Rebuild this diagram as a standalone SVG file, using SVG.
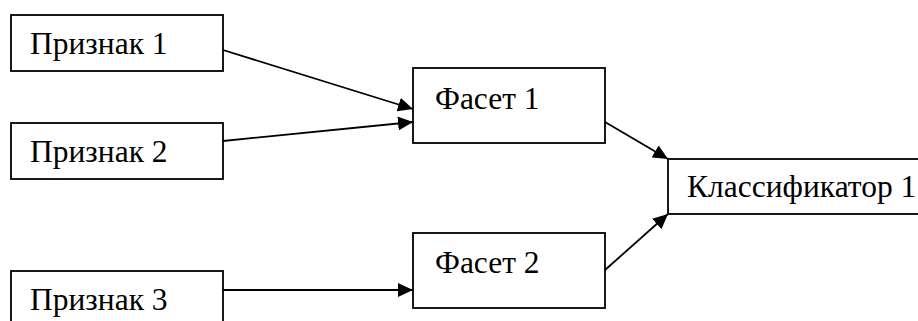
<svg xmlns="http://www.w3.org/2000/svg" width="918" height="321" viewBox="0 0 918 321">
<style>
.box{fill:#fff;stroke:#000;stroke-width:1.8}
.lbl{font-family:"Liberation Serif","Times New Roman",serif;font-size:31.5px;fill:#000}
.edge{stroke:#000;stroke-width:1.8;fill:none}
</style>
<defs>
<marker id="ah" markerUnits="userSpaceOnUse" markerWidth="16" markerHeight="14" refX="15" refY="7" orient="auto">
<path d="M0,0 L15,7 L0,14 Z" fill="#000"/>
</marker>
</defs>
<rect width="918" height="321" fill="#fff"/>
<g id="p1"><rect class="box" x="11" y="15" width="212" height="56"/><text class="lbl" x="30" y="54">Признак 1</text></g>
<g id="p2"><rect class="box" x="11" y="123" width="212" height="56"/><text class="lbl" x="30" y="162">Признак 2</text></g>
<g id="p3"><rect class="box" x="11" y="271" width="212" height="60"/><text class="lbl" x="30" y="310">Признак 3</text></g>
<g id="f1"><rect class="box" x="413" y="68" width="192" height="75"/><text class="lbl" x="435" y="109">Фасет 1</text></g>
<g id="f2"><rect class="box" x="413" y="233" width="192" height="75"/><text class="lbl" x="435" y="273">Фасет 2</text></g>
<g id="k1"><rect class="box" x="668" y="159" width="262" height="55"/><text class="lbl" x="687" y="197">Классификатор 1</text></g>
<g id="edges">
<line class="edge" x1="223" y1="50" x2="413" y2="109" marker-end="url(#ah)"/>
<line class="edge" x1="223" y1="141" x2="413" y2="122" marker-end="url(#ah)"/>
<line class="edge" x1="223" y1="290" x2="413" y2="290" marker-end="url(#ah)"/>
<line class="edge" x1="605" y1="122" x2="668" y2="159" marker-end="url(#ah)"/>
<line class="edge" x1="605" y1="270" x2="668" y2="214" marker-end="url(#ah)"/>
</g>
</svg>
